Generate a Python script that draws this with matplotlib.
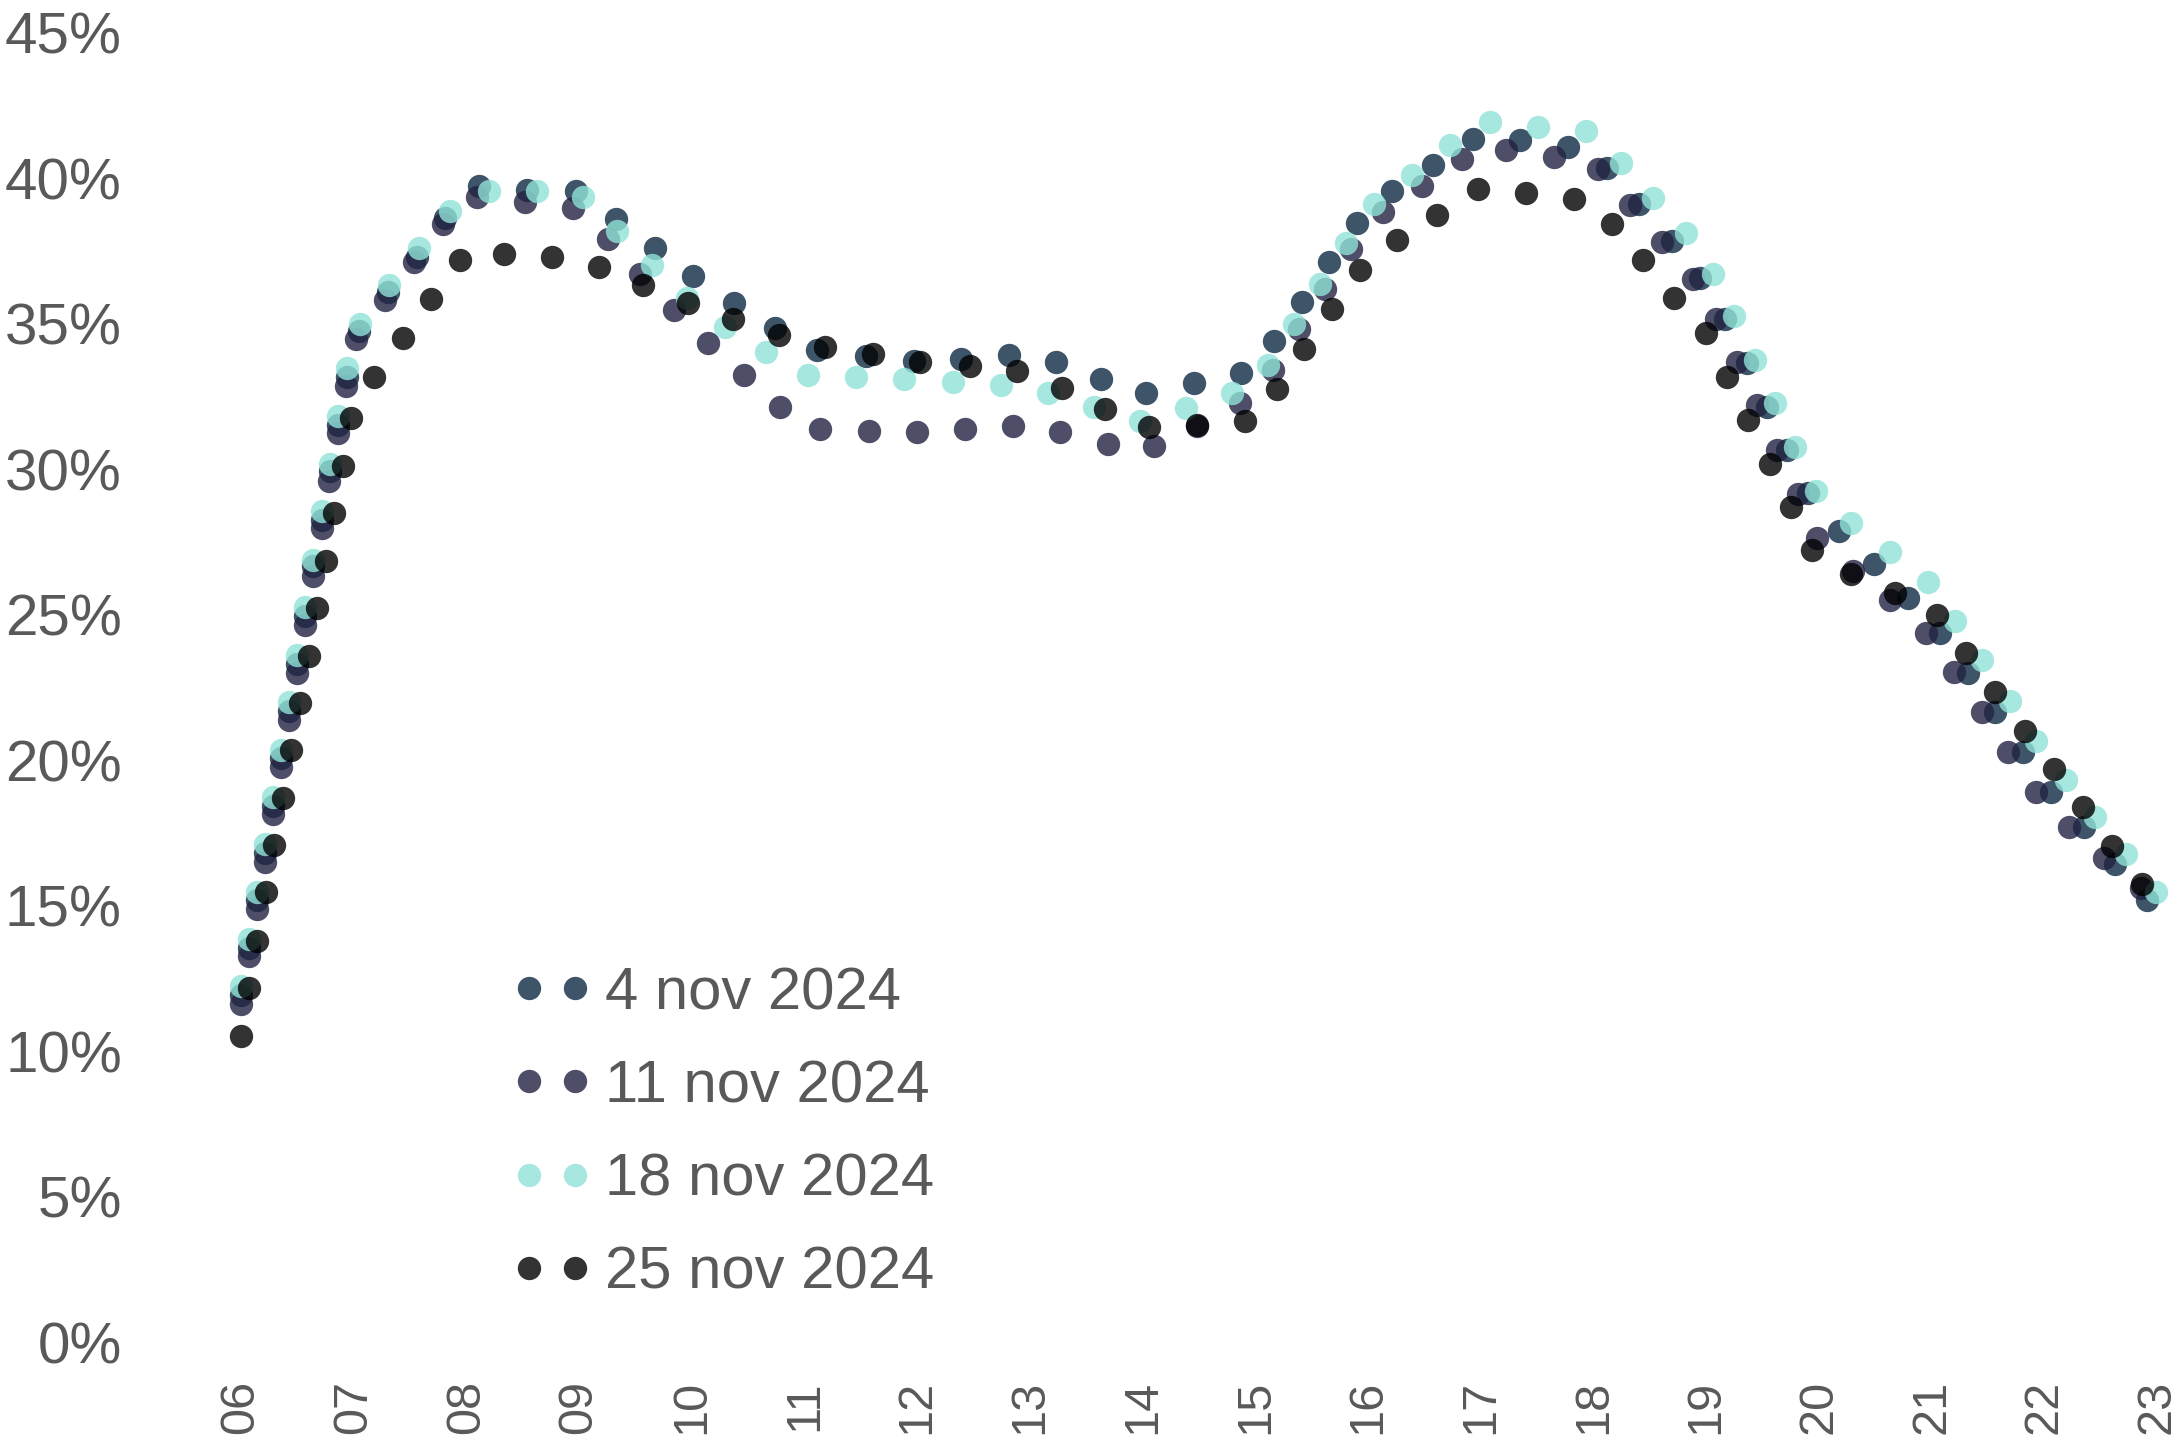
import matplotlib
matplotlib.use("Agg")
import matplotlib.pyplot as plt

plt.rcParams['font.family'] = ['Liberation Sans', 'DejaVu Sans']

# ---- data (hour of day, share in %) ----
series_labels = ["4 nov 2024", "11 nov 2024", "18 nov 2024", "25 nov 2024"]

t_nov04 = [6.00, 6.068, 6.138, 6.216, 6.286, 6.357, 6.428, 6.499, 6.568, 6.642, 6.716, 6.789, 6.857, 6.937,
           7.050, 7.301, 7.558, 7.810, 8.114, 8.540, 8.970, 9.324, 9.671, 10.015, 10.373, 10.738, 11.114,
           11.550, 11.970, 12.393, 12.818, 13.229, 13.629, 14.033, 14.454, 14.869, 15.165, 15.411, 15.653,
           15.899, 16.215, 16.573, 16.934, 17.348, 17.771, 18.122, 18.407, 18.693, 18.945, 19.170, 19.360,
           19.541, 19.721, 19.902, 20.178, 20.488, 20.789, 21.075, 21.323, 21.566, 21.813, 22.064, 22.349,
           22.627, 22.912]
v_nov04 = [11.93, 13.56, 15.19, 16.81, 18.44, 20.07, 21.69, 23.32, 24.94, 26.66, 28.26, 29.92, 31.52, 33.18,
           34.73, 36.07, 37.30, 38.62, 39.73, 39.59, 39.54, 38.59, 37.59, 36.62, 35.72, 34.84, 34.10,
           33.89, 33.70, 33.78, 33.93, 33.67, 33.10, 32.61, 32.95, 33.32, 34.39, 35.75, 37.10,
           38.47, 39.55, 40.44, 41.33, 41.30, 41.06, 40.33, 39.11, 37.84, 36.56, 35.17, 33.65,
           32.14, 30.66, 29.18, 27.89, 26.74, 25.57, 24.36, 23.01, 21.65, 20.27, 18.91, 17.71,
           16.43, 15.20]

t_nov11 = [6.00, 6.068, 6.138, 6.216, 6.286, 6.357, 6.428, 6.499, 6.568, 6.642, 6.716, 6.783, 6.857, 6.929,
           7.017, 7.278, 7.535, 7.795, 8.090, 8.520, 8.942, 9.252, 9.541, 9.838, 10.140, 10.465, 10.786,
           11.141, 11.570, 11.998, 12.425, 12.853, 13.269, 13.689, 14.097, 14.480, 14.862, 15.153, 15.386,
           15.617, 15.848, 16.130, 16.482, 16.833, 17.224, 17.650, 18.042, 18.324, 18.605, 18.886, 19.089,
           19.270, 19.450, 19.631, 19.812, 19.986, 20.302, 20.630, 20.955, 21.204, 21.446, 21.683, 21.924,
           22.219, 22.535, 22.862]
v_nov11 = [11.63, 13.26, 14.89, 16.51, 18.14, 19.77, 21.39, 23.01, 24.64, 26.32, 27.98, 29.60, 31.24, 32.87,
           34.48, 35.81, 37.10, 38.42, 39.36, 39.19, 38.96, 37.89, 36.72, 35.47, 34.33, 33.22, 32.12,
           31.38, 31.32, 31.26, 31.38, 31.49, 31.26, 30.87, 30.78, 31.50, 32.26, 33.41, 34.81,
           36.18, 37.58, 38.82, 39.73, 40.67, 40.97, 40.74, 40.32, 39.08, 37.80, 36.54, 35.17,
           33.68, 32.19, 30.66, 29.13, 27.63, 26.49, 25.49, 24.36, 23.03, 21.65, 20.27, 18.91,
           17.71, 16.63, 15.60]

t_nov18 = [6.00, 6.068, 6.138, 6.216, 6.286, 6.357, 6.428, 6.499, 6.568, 6.642, 6.716, 6.789, 6.863, 6.937,
           7.056, 7.313, 7.582, 7.855, 8.198, 8.623, 9.031, 9.339, 9.644, 9.954, 10.294, 10.662, 11.027,
           11.455, 11.887, 12.314, 12.742, 13.163, 13.570, 13.977, 14.386, 14.797, 15.115, 15.344, 15.574,
           15.804, 16.053, 16.390, 16.727, 17.082, 17.505, 17.931, 18.245, 18.531, 18.820, 19.061, 19.249,
           19.435, 19.610, 19.791, 19.971, 20.287, 20.628, 20.965, 21.211, 21.451, 21.693, 21.928, 22.190,
           22.454, 22.722, 22.993]
v_nov18 = [12.24, 13.86, 15.49, 17.11, 18.74, 20.37, 21.99, 23.62, 25.25, 26.87, 28.55, 30.17, 31.81, 33.47,
           34.99, 36.31, 37.59, 38.87, 39.56, 39.54, 39.36, 38.19, 37.02, 35.87, 34.90, 34.04, 33.24,
           33.18, 33.10, 33.01, 32.90, 32.61, 32.13, 31.64, 32.10, 32.61, 33.58, 34.97, 36.36,
           37.76, 39.10, 40.11, 41.14, 41.92, 41.77, 41.60, 40.53, 39.31, 38.10, 36.70, 35.25,
           33.75, 32.26, 30.75, 29.24, 28.16, 27.16, 26.13, 24.78, 23.43, 22.04, 20.66, 19.33,
           18.05, 16.77, 15.49]

t_nov25 = [6.00, 6.074, 6.144, 6.222, 6.293, 6.369, 6.446, 6.524, 6.600, 6.677, 6.754, 6.827, 6.903, 6.979,
           7.183, 7.435, 7.689, 7.943, 8.334, 8.762, 9.173, 9.570, 9.967, 10.370, 10.773, 11.185, 11.609,
           12.029, 12.465, 12.889, 13.285, 13.669, 14.057, 14.481, 14.910, 15.192, 15.434, 15.680, 15.925,
           16.253, 16.614, 16.978, 17.399, 17.824, 18.161, 18.442, 18.719, 18.998, 19.188, 19.374, 19.565,
           19.755, 19.943, 20.283, 20.678, 21.049, 21.308, 21.566, 21.828, 22.083, 22.345, 22.602, 22.864]
v_nov25 = [10.54, 12.17, 13.80, 15.46, 17.08, 18.71, 20.34, 21.97, 23.59, 25.22, 26.86, 28.49, 30.12, 31.75,
           33.17, 34.51, 35.85, 37.18, 37.40, 37.28, 36.96, 36.33, 35.72, 35.16, 34.62, 34.20, 33.94,
           33.69, 33.53, 33.38, 32.80, 32.06, 31.46, 31.52, 31.64, 32.76, 34.12, 35.49, 36.85,
           37.86, 38.74, 39.63, 39.48, 39.27, 38.42, 37.18, 35.89, 34.68, 33.18, 31.69, 30.19,
           28.71, 27.23, 26.39, 25.74, 25.00, 23.67, 22.35, 21.01, 19.70, 18.38, 17.06, 15.74]

x_ticks = list(range(6, 24))
x_ticklabels = [f"{h:02d}" for h in x_ticks]
y_ticks = list(range(0, 50, 5))
y_ticklabels = [f"{v}%" for v in y_ticks]

colors = ["#0d2942", "#222242", "#90e2d7", "#000000"]

# ---- figure ----
W, H = 2182, 1441
fig = plt.figure(figsize=(W / 100, H / 100), dpi=100)
ax_left, ax_right = 140, 2175
ax_bottom, ax_top = 1342.5, 32.5
ax = fig.add_axes([ax_left / W, (H - ax_bottom) / H, (ax_right - ax_left) / W, (ax_bottom - ax_top) / H])

px_per_hour = 112.7
x0_px = 241
ax.set_xlim(6 - (x0_px - ax_left) / px_per_hour, 6 + (ax_right - x0_px) / px_per_hour)
ax.set_ylim(0, 45)

for t, v, c, lab in zip([t_nov04, t_nov11, t_nov18, t_nov25],
                        [v_nov04, v_nov11, v_nov18, v_nov25], colors, series_labels):
    ax.plot(t, v, linestyle='none', marker='o', markersize=16.8, markeredgewidth=0,
            color=c, alpha=0.8, label=lab, clip_on=False)

for s in ax.spines.values():
    s.set_visible(False)

text_color = "#595959"
ax.set_xticks(x_ticks)
ax.set_xticklabels(x_ticklabels, rotation=90, fontsize=35, color=text_color)
ax.set_yticks(y_ticks)
ax.set_yticklabels(y_ticklabels, fontsize=42, color=text_color)
ax.tick_params(axis='x', length=0, pad=27)
ax.tick_params(axis='y', length=0, pad=13)

leg = ax.legend(loc='upper left', bbox_to_anchor=(511 / W, 1 - 966 / H), bbox_transform=fig.transFigure,
                frameon=False, numpoints=2, handlelength=1.37, handletextpad=0.2,
                labelspacing=0.64, borderpad=0, borderaxespad=0,
                prop={'size': 43})
for txt in leg.get_texts():
    txt.set_color(text_color)

fig.savefig("out.png", dpi=100)
